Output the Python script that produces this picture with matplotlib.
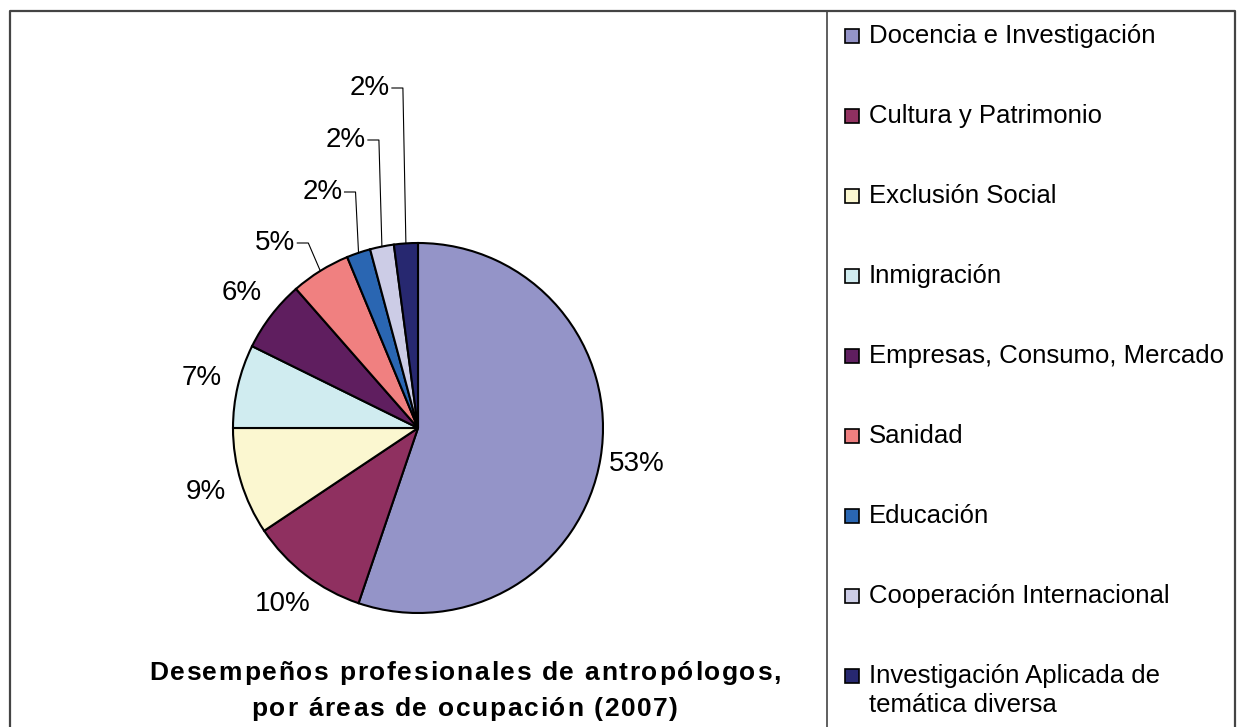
import numpy as np
import matplotlib.pyplot as plt
from matplotlib.patches import Rectangle

plt.rcParams['font.family'] = ['Liberation Sans', 'DejaVu Sans']

categories = [
    "Docencia e Investigación",
    "Cultura y Patrimonio",
    "Exclusión Social",
    "Inmigración",
    "Empresas, Consumo, Mercado",
    "Sanidad",
    "Educación",
    "Cooperación Internacional",
    "Investigación Aplicada de\ntemática diversa",
]
shares = [53, 10, 9, 7, 6, 5, 2, 2, 2]
colors = ["#9494c8", "#8f3060", "#fbf7d0", "#d0ecf0", "#5f1e5f",
          "#f08080", "#2a66b2", "#cccce6", "#272870"]
title_lines = ["Desempeños profesionales de antropólogos,",
               "por áreas de ocupación (2007)"]

W, H = 1237, 727
fig = plt.figure(figsize=(W / 100, H / 100), dpi=100)
ax = fig.add_axes([0, 0, 1, 1])
renderer = fig.canvas.get_renderer()

# frame and divider between plot area and legend
ax.plot([10, 10, 1235, 1235], [0, H - 11, H - 11, 0], color='#444444', lw=1.6)
ax.plot([827, 827], [0, H - 11], color='#444444', lw=1.2)

cx, cy, r = 418, H - 428, 185
wedges, _ = ax.pie(shares, colors=colors, startangle=90, counterclock=False,
                   center=(cx, cy), radius=r, frame=True,
                   wedgeprops=dict(edgecolor='black', linewidth=1.5))
ax.set_xlim(0, W)
ax.set_ylim(0, H)
ax.set_aspect('equal')
ax.axis('off')

# labels: big slices around the rim, small ones stacked with leader lines
stack_rise = {5: 185, 6: 236, 7: 288, 8: 340}
for i, (w, v) in enumerate(zip(wedges, shares)):
    mid = np.deg2rad((w.theta1 + w.theta2) / 2)
    ex, ey = cx + r * np.cos(mid), cy + r * np.sin(mid)
    txt = f"{v}%"
    if i in stack_rise:
        ly = cy + stack_rise[i]
        kx = ex - (12 if i == 5 else 3)
        ax.plot([ex, kx, kx - 11], [ey, ly, ly], color='black', lw=0.8)
        ax.text(kx - 13, ly, txt, ha='right', va='center', fontsize=20)
    else:
        k = 1.2
        ax.text(cx + k * r * np.cos(mid), cy + k * r * np.sin(mid), txt,
                ha='center', va='center', fontsize=20)

# legend
for i, (name, c) in enumerate(zip(categories, colors)):
    y = H - 36 - 80 * i
    ax.add_patch(Rectangle((845, y - 7), 14, 14, facecolor=c,
                           edgecolor='black', lw=1.2))
    ax.text(869, y + 12, name, ha='left', va='top', fontsize=18.5,
            linespacing=1.25)


def advance(ch, **kw):
    # width of a character including its side bearings, in pixels
    def w(s):
        t = ax.text(0, 0, s, **kw)
        bb = t.get_window_extent(renderer)
        t.remove()
        return bb.width
    return w("x" + ch + "x") - w("xx")


# letter-spaced bold title
tkw = dict(fontsize=19, fontweight='bold')
adv = [[advance(ch, **tkw) for ch in line] for line in title_lines]
gap = max(0.0, (632 - sum(adv[0])) / (len(title_lines[0]) - 1))
for line, a, y in zip(title_lines, adv, [H - 680, H - 716]):
    total = sum(a) + gap * (len(line) - 1)
    x = 465 - total / 2
    for ch, wch in zip(line, a):
        ax.text(x, y, ch, ha='left', va='baseline', **tkw)
        x += wch + gap

fig.savefig("out.png", dpi=100)
